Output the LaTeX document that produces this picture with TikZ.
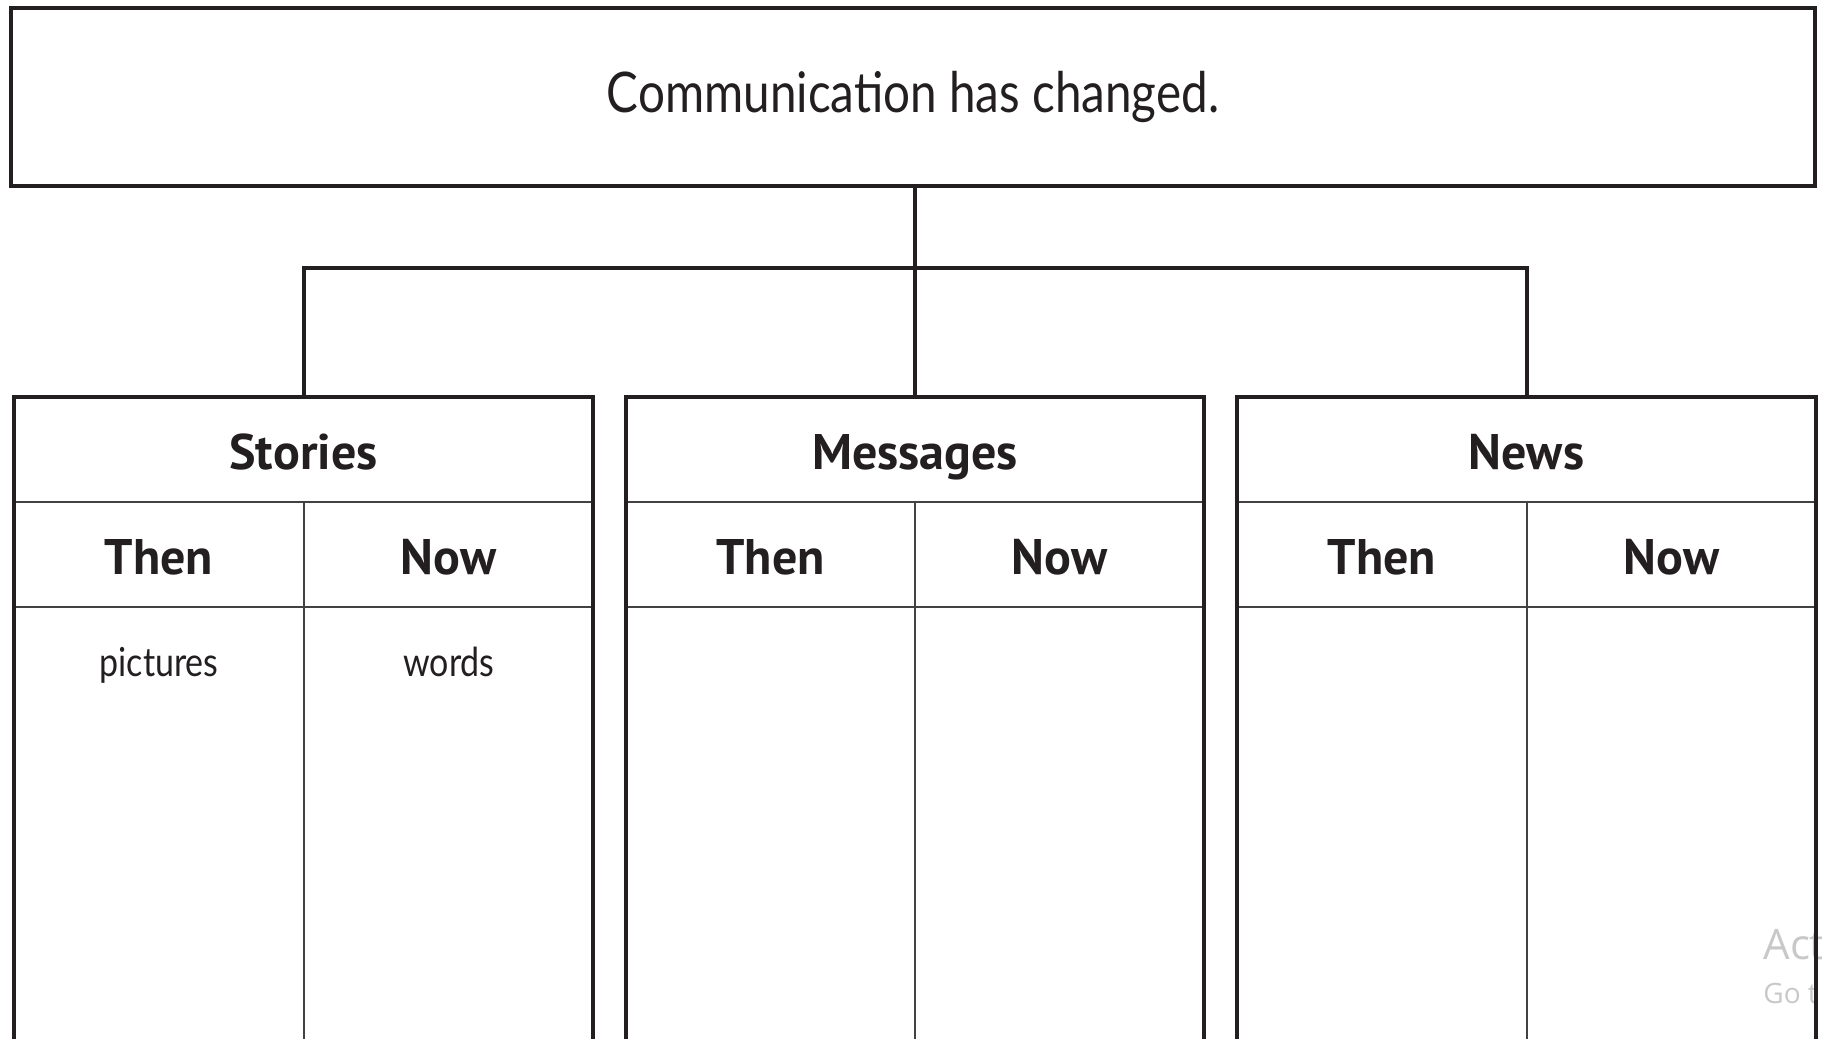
\documentclass[tikz,border=0pt]{standalone}
\usepackage{fontspec}
\newfontfamily\handfont[FakeStretch=0.85]{Lato}
\newfontfamily\headfont{PT Sans}
\newfontfamily\winfont{Open Sans}
\definecolor{ink}{HTML}{231F20}
\definecolor{winmark}{HTML}{C8C8C8}
\tikzset{
  frame/.style={draw=ink, line width=2.2pt},
  rule/.style={draw=ink!85, line width=1.2pt},
  link/.style={draw=ink, line width=2pt},
  head/.style={font=\headfont\bfseries\fontsize{25}{30}\selectfont, text=ink, inner sep=0pt, anchor=base},
  hand/.style={font=\handfont\fontsize{20}{24}\selectfont, text=ink, inner sep=0pt, anchor=base},
}
\begin{document}
\begin{tikzpicture}[x=0.5pt,y=-0.5pt]
  \useasboundingbox (0,0) rectangle (1822,1039);

  % Faint watermark in the corner, under the frames
  \node[font=\winfont\fontsize{21}{24}\selectfont, text=winmark, anchor=west, inner sep=0pt] (act) at (1763,945) {Act};
  \node[font=\winfont\fontsize{14}{16}\selectfont, text=winmark, anchor=west, inner sep=0pt] (goto) at (1763,993) {Go t};

  % Main idea box
  \node[frame, minimum width=902pt, minimum height=89pt, inner sep=0pt,
        font=\handfont\fontsize{28}{32}\selectfont, text=ink] (topic) at (913,97) {Communication has changed.};

  % Three Then/Now tables
  \foreach \name/\label/\xl/\xm/\xr in {stories/Stories/14/304/593, messages/Messages/626/915/1204, news/News/1237/1527/1816} {
    \draw[rule] (\xl,502) -- (\xr,502);
    \draw[rule] (\xl,607) -- (\xr,607);
    \draw[rule] (\xm,502) -- (\xm,1060);
    \draw[frame] (\xl,1060) -- (\xl,397) -- (\xr,397) -- (\xr,1060);
    \node[head] (\name) at ({(\xl+\xr)/2},469) {\label};
    \node[head] (\name-then) at ({(\xl+\xm)/2},574) {Then};
    \node[head] (\name-now) at ({(\xm+\xr)/2},574) {Now};
    \coordinate (\name-top) at (\xm,397);
  }

  % Example answers
  \node[hand] (stories-then-1) at (159,676) {pictures};
  \node[hand] (stories-now-1) at (449,676) {words};

  % Connectors from the main idea down to each table
  \coordinate (hub) at (915,268);
  \draw[link] (topic.south -| hub) -- (hub) -- (messages-top);
  \draw[link] (stories-top) |- (hub) -| (news-top);
\end{tikzpicture}
\end{document}
